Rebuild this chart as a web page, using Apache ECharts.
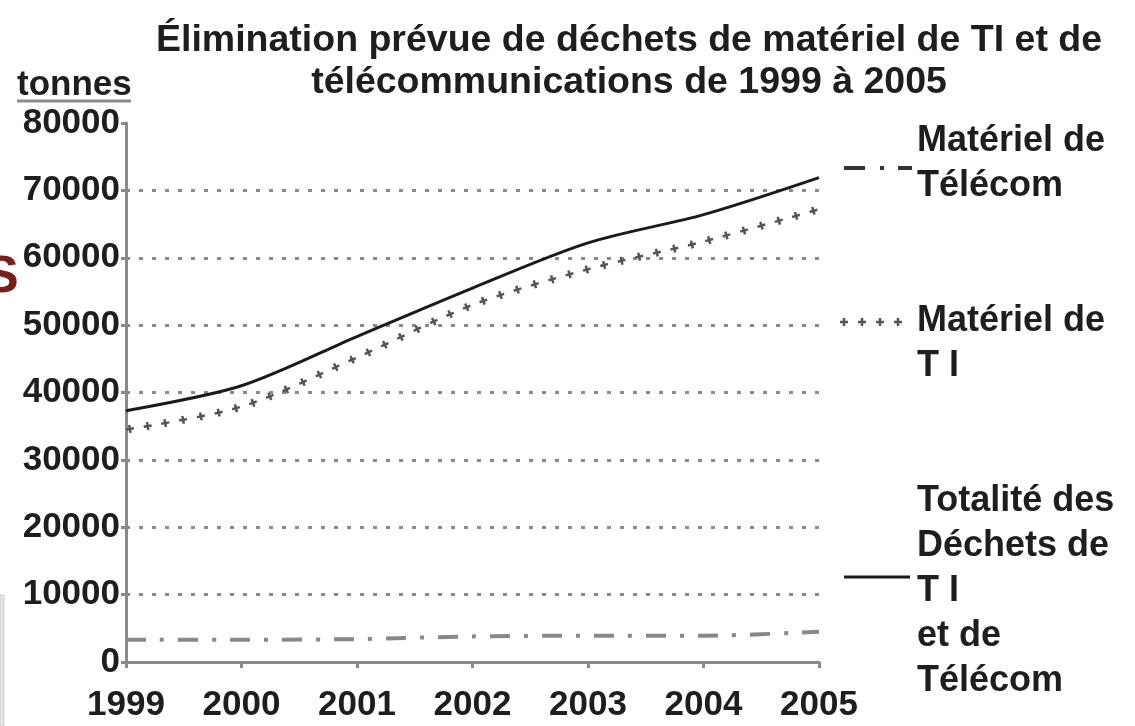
<!DOCTYPE html>
<html>
<head>
<meta charset="utf-8">
<script src="https://cdn.jsdelivr.net/npm/echarts@6/dist/echarts.min.js"></script>
<style>
html,body{margin:0;padding:0;background:#fff;}
#c{width:1135px;height:726px;}
</style>
</head>
<body>
<div id="c"></div>
<script>
// ---- data ----
const years = ['1999', '2000', '2001', '2002', '2003', '2004', '2005'];
const telecom = [3300, 3300, 3400, 3800, 3900, 3900, 4500];
const ti = [34500, 37900, 45200, 53000, 58300, 62400, 67200];
const total = [37300, 41000, 48300, 55500, 62200, 66400, 71900];
const titleText = 'Élimination prévue de déchets de matériel de TI et de\ntélécommunications de 1999 à 2005';
const unitText = 'tonnes';
const legendTelecom = ['Matériel de', 'Télécom'];
const legendTI = ['Matériel de', 'T I'];
const legendTotal = ['Totalité des', 'Déchets de', 'T I', 'et de', 'Télécom'];

const FONT = 'Liberation Sans';
const TXT = '#1e1e1e';
const AX = '#8a8a8a';

const chart = echarts.init(document.getElementById('c'), null, {renderer: 'canvas'});

function legendText(lines, x, yCenterFirst) {
  return lines.map((t, i) => ({
    type: 'text', left: x, top: yCenterFirst - 20 + i * 45,
    style: {text: t, font: 'bold 36px "' + FONT + '"', fill: TXT}
  }));
}

const option = {
  backgroundColor: '#fff',
  animation: false,
  title: {
    text: titleText,
    left: 624, top: 15, textAlign: 'center',
    textStyle: {fontFamily: FONT, fontWeight: 'bold', fontSize: 37.5, lineHeight: 42, color: TXT}
  },
  grid: {left: 126, right: 316, top: 123, bottom: 64, containLabel: false},
  xAxis: {
    type: 'category', data: years, boundaryGap: false,
    axisLine: {lineStyle: {color: AX, width: 3}},
    axisTick: {show: true, length: 6, lineStyle: {color: AX, width: 3}},
    axisLabel: {fontFamily: FONT, fontWeight: 'bold', fontSize: 35, color: TXT, margin: 26},
    splitLine: {show: false}
  },
  yAxis: {
    type: 'value', min: 0, max: 80000, interval: 10000,
    axisLine: {show: true, lineStyle: {color: AX, width: 3}},
    axisTick: {show: true, length: 5, lineStyle: {color: AX, width: 3}},
    axisLabel: {fontFamily: FONT, fontWeight: 'bold', fontSize: 35, color: TXT, margin: 6,
      formatter: v => String(v)},
    splitLine: {show: true, showMinLine: false, showMaxLine: false,
      lineStyle: {color: AX, width: 3, type: [4, 9]}}
  },
  series: [
    {
      name: 'Matériel de Télécom', type: 'line', data: telecom, smooth: 0.3,
      symbol: 'none',
      lineStyle: {color: '#888', width: 4, type: [20, 14, 4, 14]}
    },
    {
      name: 'Matériel de T I', type: 'line', data: ti, smooth: 0.3,
      symbol: 'none',
      lineStyle: {color: '#555', width: 2.5, type: [8, 10]}
    },
    {
      name: 'Matériel de T I (croix)', type: 'line', data: ti, smooth: 0.3,
      symbol: 'none',
      lineStyle: {color: '#555', width: 8, type: [2.5, 15.5], dashOffset: 15.25}
    },
    {
      name: 'Totalité des Déchets de T I et de Télécom', type: 'line', data: total, smooth: 0.3,
      symbol: 'none',
      lineStyle: {color: '#1a1a1a', width: 3}
    }
  ],
  graphic: [
    {type: 'text', left: 17, top: 68, style: {text: unitText, font: 'bold 35px "' + FONT + '"', fill: TXT}},
    {type: 'line', shape: {x1: 17, y1: 101, x2: 131, y2: 101}, style: {stroke: AX, lineWidth: 3}},
    // legend samples
    {type: 'line', shape: {x1: 844, y1: 168, x2: 912, y2: 168}, style: {stroke: '#333', lineWidth: 4, lineDash: [21, 15, 4, 14]}},
    {type: 'line', shape: {x1: 840, y1: 322, x2: 912, y2: 322}, style: {stroke: '#555', lineWidth: 2.5, lineDash: [8, 10]}},
    {type: 'line', shape: {x1: 840, y1: 322, x2: 912, y2: 322}, style: {stroke: '#555', lineWidth: 8, lineDash: [2.5, 15.5], lineDashOffset: 15.25}},
    {type: 'line', shape: {x1: 844, y1: 577, x2: 910, y2: 577}, style: {stroke: '#1a1a1a', lineWidth: 3}},
    ...legendText(legendTelecom, 917, 143),
    ...legendText(legendTI, 917, 323),
    ...legendText(legendTotal, 917, 503),
    // artifacts at the left edge
    {type: 'text', left: -16, top: 252, style: {text: 'S', font: 'bold 52px "' + FONT + '"', fill: '#7a1c1c'}},
    {type: 'rect', shape: {x: 0, y: 595, width: 4, height: 131}, style: {fill: '#e4e4e4', stroke: '#d2d2d2', lineWidth: 1}}
  ]
};
chart.setOption(option);
</script>
</body>
</html>
